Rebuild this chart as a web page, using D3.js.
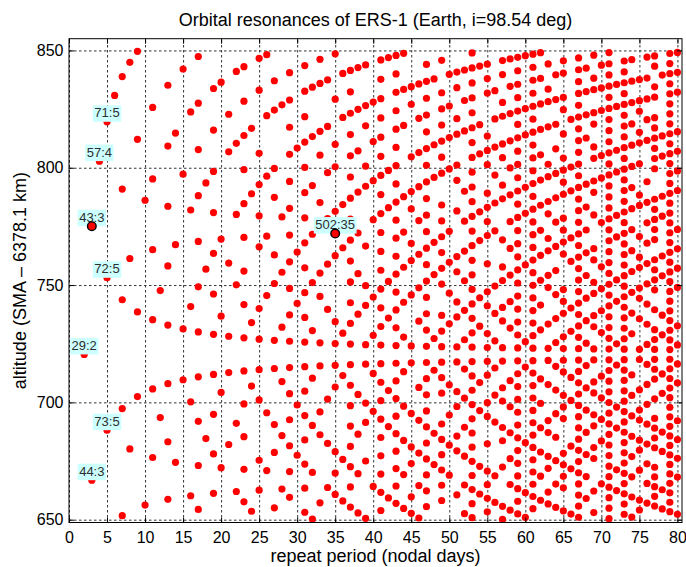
<!DOCTYPE html>
<html>
<head>
<meta charset="utf-8">
<script src="https://cdn.jsdelivr.net/npm/d3@7"></script>
<style>
  html, body { margin: 0; padding: 0; background: #fff; }
  svg { display: block; font-family: "Liberation Sans", Arial, sans-serif; }
</style>
</head>
<body>
<script>
//------------------------------DATA------------------------------//
const chartTitle = "Orbital resonances of ERS-1 (Earth, i=98.54 deg)";
const xTitle = "repeat period (nodal days)";
const yTitle = "altitude (SMA \u2013 6378.1 km)";

const inclinationDeg = 98.54;
const refRadius = 6378.1;          // km subtracted from SMA
const maxRepeatDays = 80;          // longest repeat cycle plotted
const altitudeWindow = [650, 850]; // km

const xTickValues = [0, 5, 10, 15, 20, 25, 30, 35, 40, 45, 50, 55, 60, 65, 70, 75, 80];
const yTickValues = [650, 700, 750, 800, 850];

// resonances (revolutions : nodal days) that carry a label
const labelledResonances = ["71:5", "57:4", "43:3", "72:5", "29:2", "73:5", "44:3", "502:35"];
const highlightedResonances = ["43:3", "502:35"];

//--------------------------ORBIT MODEL---------------------------//
// mean motion with J2 secular terms, counted per nodal day
const MU = 398600.4418, J2 = 1.08263e-3, RE = 6378.137, WE = 7.2921159e-5;
const inc = inclinationDeg * Math.PI / 180;
const sin2i = Math.sin(inc) ** 2, cosi = Math.cos(inc);

function revsPerNodalDay(a) {
    const n = Math.sqrt(MU / (a * a * a));
    const k = 1.5 * J2 * (RE / a) ** 2;
    const latRate = n * (1 + k * (3 - 4 * sin2i));
    const nodeRate = -k * n * cosi;
    return latRate / (WE - nodeRate);
}

function altitudeOf(ratio) {
    let lo = 6700, hi = 7700;
    for (let i = 0; i < 60; i++) {
        const mid = (lo + hi) / 2;
        if (revsPerNodalDay(mid) > ratio) lo = mid; else hi = mid;
    }
    return (lo + hi) / 2 - refRadius;
}

const gcd = (a, b) => b ? gcd(b, a % b) : a;
const parseRes = s => { const p = s.split(":").map(Number); return { n: p[0], d: p[1] }; };

const rMin = revsPerNodalDay(refRadius + altitudeWindow[1]);
const rMax = revsPerNodalDay(refRadius + altitudeWindow[0]);
const points = [];
for (let d = 1; d <= maxRepeatDays; d++) {
    for (let n = Math.ceil(d * rMin); n <= Math.floor(d * rMax); n++) {
        if (gcd(n, d) !== 1) continue;
        const alt = altitudeOf(n / d);
        if (alt >= altitudeWindow[0] && alt <= altitudeWindow[1]) points.push({ d, n, alt });
    }
}

//-----------------------------SVG--------------------------------//
const W = 686, H = 567;
const plot = { left: 69, right: 682, top: 38.7, bottom: 522.5 };

const svg = d3.select("body").append("svg")
    .attr("width", W).attr("height", H);

const xScale = d3.scaleLinear().domain([0, 80.6]).range([plot.left, plot.right]);
const yScale = d3.scaleLinear().domain([648.8, 855]).range([plot.bottom, plot.top]);

//-----------------------------GRID-------------------------------//
const gridStyle = g => {
    g.select(".domain").remove();
    g.selectAll("line").attr("stroke", "#333").attr("stroke-width", 1)
        .attr("stroke-dasharray", "2.5,2.5");
};
svg.append("g")
    .attr("transform", `translate(0,${plot.bottom})`)
    .call(d3.axisBottom(xScale).tickValues(xTickValues).tickFormat("")
        .tickSize(-(plot.bottom - plot.top)).tickSizeOuter(0))
    .call(gridStyle);
svg.append("g")
    .attr("transform", `translate(${plot.left},0)`)
    .call(d3.axisLeft(yScale).tickValues(yTickValues).tickFormat("")
        .tickSize(-(plot.right - plot.left)).tickSizeOuter(0))
    .call(gridStyle);

//----------------------------LABEL BOXES-------------------------//
const labelData = labelledResonances.map(s => {
    const r = parseRes(s);
    return { text: s, d: r.d, alt: altitudeOf(r.n / r.d) };
});
const labelG = svg.append("g");
const boxes = labelG.selectAll("rect").data(labelData).enter().append("rect");

//-----------------------------POINTS-----------------------------//
svg.append("g").selectAll("circle")
    .data(points)
    .enter().append("circle")
    .attr("cx", d => xScale(d.d))
    .attr("cy", d => yScale(d.alt))
    .attr("r", 3.6)
    .attr("fill", "#ff0000");

//-----------------------------AXES-------------------------------//
const axisStyle = g => {
    g.select(".domain").remove();
    g.selectAll("line").attr("stroke", "#000");
    g.selectAll("text").attr("fill", "#000").style("font-size", "16px")
        .style("font-family", "'Liberation Sans', Arial, sans-serif");
};
svg.append("g")
    .attr("transform", `translate(0,${plot.bottom})`)
    .call(d3.axisBottom(xScale).tickValues(xTickValues).tickSize(-5).tickSizeOuter(0).tickPadding(9.5))
    .call(axisStyle);
svg.append("g")
    .attr("transform", `translate(0,${plot.top})`)
    .call(d3.axisTop(xScale).tickValues(xTickValues).tickSize(-5).tickSizeOuter(0).tickFormat(""))
    .call(axisStyle);
svg.append("g")
    .attr("transform", `translate(${plot.left},0)`)
    .call(d3.axisLeft(yScale).tickValues(yTickValues).tickSize(-5).tickSizeOuter(0).tickPadding(5.5))
    .call(axisStyle);
svg.append("g")
    .attr("transform", `translate(${plot.right},0)`)
    .call(d3.axisRight(yScale).tickValues(yTickValues).tickSize(-5).tickSizeOuter(0).tickFormat(""))
    .call(axisStyle);

svg.append("rect")
    .attr("x", plot.left).attr("y", plot.top)
    .attr("width", plot.right - plot.left).attr("height", plot.bottom - plot.top)
    .attr("fill", "none").attr("stroke", "#000").attr("stroke-width", 1);

//-----------------------------LABELS-----------------------------//
const labelTexts = labelG.selectAll("text").data(labelData).enter().append("text")
    .attr("x", d => xScale(d.d))
    .attr("y", d => yScale(d.alt) - 4.5)
    .attr("text-anchor", "middle")
    .style("font-size", "13px")
    .attr("fill", "#2e2e2e")
    .text(d => d.text);

labelTexts.each(function (d) { d.w = this.getComputedTextLength(); });
boxes
    .attr("x", d => xScale(d.d) - d.w / 2 - 1.5)
    .attr("y", d => yScale(d.alt) - 16.5)
    .attr("width", d => d.w + 3)
    .attr("height", 16.5)
    .attr("fill", "#ccffff");
labelG.raise();

svg.append("g").selectAll("circle")
    .data(highlightedResonances.map(parseRes))
    .enter().append("circle")
    .attr("cx", d => xScale(d.d))
    .attr("cy", d => yScale(altitudeOf(d.n / d.d)))
    .attr("r", 4.3)
    .attr("fill", "#ff0000")
    .attr("stroke", "#000")
    .attr("stroke-width", 1.4);

//-----------------------------TITLES-----------------------------//
svg.append("text")
    .attr("x", (plot.left + plot.right) / 2).attr("y", 26)
    .attr("text-anchor", "middle").style("font-size", "18px")
    .text(chartTitle);
svg.append("text")
    .attr("x", (plot.left + plot.right) / 2).attr("y", 562)
    .attr("text-anchor", "middle").style("font-size", "18px")
    .text(xTitle);
svg.append("text")
    .attr("transform", `translate(25.5,${(plot.top + plot.bottom) / 2}) rotate(-90)`)
    .attr("text-anchor", "middle").style("font-size", "18px")
    .text(yTitle);
</script>
</body>
</html>
